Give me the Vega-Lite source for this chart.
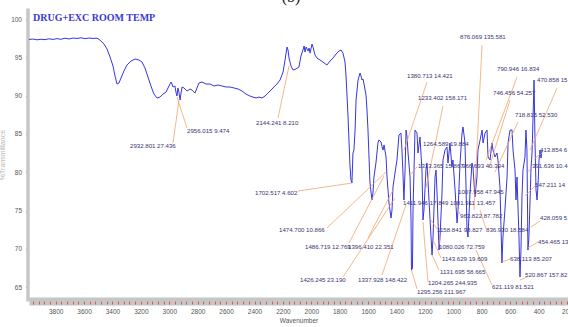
{
  "$schema": "https://vega.github.io/schema/vega-lite/v6.json",
  "width": 539,
  "height": 293,
  "autosize": {"type": "none"},
  "padding": {"left": 29, "top": 8, "right": 0, "bottom": 26},
  "background": "white",
  "config": {"view": {"stroke": null}},
  "resolve": {"axis": {"x": "independent"}},
  "datasets": {
    "spectrum": [
      {"wn":3988,"t":97.33},{"wn":3959,"t":97.39},{"wn":3931,"t":97.29},{"wn":3903,"t":97.36},{"wn":3875,"t":97.31},{"wn":3847,"t":97.42},{"wn":3819,"t":97.34},{"wn":3790,"t":97.44},{"wn":3762,"t":97.36},{"wn":3734,"t":97.5},{"wn":3706,"t":97.4},{"wn":3678,"t":97.52},{"wn":3650,"t":97.46},{"wn":3621,"t":97.55},{"wn":3593,"t":97.44},{"wn":3565,"t":97.52},{"wn":3537,"t":97.47},{"wn":3509,"t":97.5},
      {"wn":3488,"t":97.26},{"wn":3460,"t":96.74},{"wn":3438,"t":96.09},{"wn":3417,"t":95.04},{"wn":3396,"t":93.87},{"wn":3382,"t":92.56},{"wn":3368,"t":91.52},{"wn":3354,"t":91.65},{"wn":3340,"t":92.3},{"wn":3319,"t":93.21},{"wn":3298,"t":94.0},{"wn":3269,"t":94.52},{"wn":3241,"t":94.78},{"wn":3213,"t":94.65},{"wn":3192,"t":94.39},{"wn":3171,"t":93.61},{"wn":3150,"t":92.43},{"wn":3129,"t":91.26},{"wn":3108,"t":90.21},{"wn":3086,"t":89.69},{"wn":3065,"t":89.82},{"wn":3044,"t":90.21},{"wn":3023,"t":90.47},{"wn":3009,"t":91.0},{"wn":2988,"t":91.78},{"wn":2981,"t":91.52},{"wn":2974,"t":91.13},{"wn":2960,"t":91.26},{"wn":2953,"t":90.47},{"wn":2946,"t":89.95},{"wn":2939,"t":91.0},{"wn":2932,"t":90.47},{"wn":2924,"t":89.43},{"wn":2917,"t":90.34},{"wn":2910,"t":91.13},{"wn":2896,"t":91.0},{"wn":2875,"t":90.6},{"wn":2854,"t":90.87},{"wn":2840,"t":90.73},{"wn":2819,"t":90.34},{"wn":2805,"t":91.0},{"wn":2791,"t":91.65},{"wn":2770,"t":91.78},{"wn":2741,"t":91.52},{"wn":2713,"t":91.52},{"wn":2685,"t":91.26},{"wn":2657,"t":91.39},{"wn":2629,"t":91.26},{"wn":2601,"t":91.13},{"wn":2572,"t":91.13},{"wn":2544,"t":91.0},{"wn":2516,"t":90.87},{"wn":2488,"t":90.6},{"wn":2460,"t":90.21},{"wn":2432,"t":89.95},{"wn":2411,"t":89.82},{"wn":2389,"t":89.69},{"wn":2368,"t":89.82},{"wn":2347,"t":89.69},{"wn":2326,"t":89.95},{"wn":2305,"t":90.34},{"wn":2284,"t":90.73},{"wn":2263,"t":91.13},{"wn":2242,"t":91.52},{"wn":2220,"t":92.04},{"wn":2199,"t":93.08},{"wn":2185,"t":94.65},{"wn":2171,"t":96.35},{"wn":2164,"t":95.96},{"wn":2157,"t":94.91},{"wn":2143,"t":93.87},{"wn":2129,"t":93.35},{"wn":2108,"t":93.48},{"wn":2087,"t":93.74},{"wn":2073,"t":95.17},{"wn":2059,"t":95.96},{"wn":2051,"t":96.48},{"wn":2044,"t":95.69},{"wn":2037,"t":96.35},{"wn":2023,"t":95.82},{"wn":2016,"t":96.22},{"wn":2009,"t":95.56},{"wn":1995,"t":96.74},{"wn":1988,"t":96.35},{"wn":1974,"t":95.3},{"wn":1960,"t":94.91},{"wn":1939,"t":94.65},{"wn":1918,"t":94.39},{"wn":1890,"t":94.0},{"wn":1868,"t":94.52},{"wn":1847,"t":94.91},{"wn":1826,"t":95.43},{"wn":1805,"t":95.82},{"wn":1791,"t":95.96},{"wn":1777,"t":95.56},{"wn":1763,"t":94.39},{"wn":1756,"t":92.69},{"wn":1749,"t":90.08},{"wn":1742,"t":87.47},{"wn":1735,"t":84.21},{"wn":1728,"t":80.95},{"wn":1721,"t":78.99},{"wn":1714,"t":78.6},{"wn":1707,"t":82.51},{"wn":1700,"t":82.9},{"wn":1692,"t":85.51},{"wn":1685,"t":89.43},{"wn":1671,"t":92.04},{"wn":1657,"t":92.95},{"wn":1650,"t":92.56},{"wn":1643,"t":92.04},{"wn":1636,"t":92.17},{"wn":1629,"t":91.52},{"wn":1615,"t":90.08},{"wn":1608,"t":88.12},{"wn":1601,"t":85.51},{"wn":1587,"t":78.6},{"wn":1573,"t":76.38},{"wn":1566,"t":77.29},{"wn":1559,"t":79.38},{"wn":1545,"t":81.21},{"wn":1531,"t":83.82},{"wn":1524,"t":84.21},{"wn":1509,"t":83.95},{"wn":1502,"t":83.3},{"wn":1495,"t":82.9},{"wn":1488,"t":83.56},{"wn":1474,"t":81.99},{"wn":1467,"t":79.38},{"wn":1460,"t":77.68},{"wn":1453,"t":75.99},{"wn":1439,"t":74.03},{"wn":1432,"t":75.07},{"wn":1425,"t":78.08},{"wn":1411,"t":79.9},{"wn":1397,"t":81.6},{"wn":1383,"t":84.86},{"wn":1369,"t":85.12},{"wn":1362,"t":82.9},{"wn":1355,"t":79.9},{"wn":1348,"t":76.38},{"wn":1340,"t":80.29},{"wn":1333,"t":85.51},{"wn":1326,"t":84.6},{"wn":1319,"t":82.51},{"wn":1305,"t":79.38},{"wn":1298,"t":73.77},{"wn":1295,"t":67.24},{"wn":1288,"t":67.51},{"wn":1284,"t":75.07},{"wn":1270,"t":85.51},{"wn":1256,"t":85.12},{"wn":1249,"t":82.51},{"wn":1235,"t":84.6},{"wn":1221,"t":80.29},{"wn":1214,"t":73.77},{"wn":1207,"t":75.07},{"wn":1193,"t":80.29},{"wn":1186,"t":81.21},{"wn":1179,"t":78.99},{"wn":1164,"t":73.77},{"wn":1150,"t":69.2},{"wn":1143,"t":71.55},{"wn":1129,"t":79.38},{"wn":1122,"t":80.29},{"wn":1115,"t":77.29},{"wn":1101,"t":69.85},{"wn":1094,"t":71.55},{"wn":1080,"t":77.29},{"wn":1073,"t":81.6},{"wn":1059,"t":82.9},{"wn":1045,"t":83.3},{"wn":1038,"t":81.21},{"wn":1024,"t":83.82},{"wn":1010,"t":80.69},{"wn":1003,"t":81.6},{"wn":988,"t":77.68},{"wn":974,"t":73.38},{"wn":967,"t":75.07},{"wn":953,"t":81.21},{"wn":939,"t":85.12},{"wn":932,"t":85.91},{"wn":918,"t":83.82},{"wn":904,"t":72.46},{"wn":897,"t":71.55},{"wn":883,"t":77.29},{"wn":869,"t":81.21},{"wn":862,"t":80.69},{"wn":848,"t":76.77},{"wn":834,"t":79.38},{"wn":827,"t":82.9},{"wn":812,"t":84.21},{"wn":798,"t":85.51},{"wn":791,"t":83.82},{"wn":777,"t":85.12},{"wn":763,"t":85.51},{"wn":756,"t":81.99},{"wn":742,"t":81.6},{"wn":728,"t":83.82},{"wn":721,"t":82.9},{"wn":707,"t":81.99},{"wn":693,"t":82.51},{"wn":686,"t":81.6},{"wn":672,"t":78.08},{"wn":658,"t":68.16},{"wn":651,"t":71.55},{"wn":637,"t":75.07},{"wn":622,"t":79.38},{"wn":615,"t":83.82},{"wn":601,"t":85.51},{"wn":587,"t":85.51},{"wn":580,"t":82.9},{"wn":566,"t":80.29},{"wn":559,"t":76.38},{"wn":552,"t":79.38},{"wn":538,"t":71.55},{"wn":531,"t":66.33},{"wn":524,"t":69.85},{"wn":517,"t":76.77},{"wn":510,"t":80.29},{"wn":496,"t":81.99},{"wn":489,"t":85.51},{"wn":482,"t":82.9},{"wn":475,"t":69.85},{"wn":468,"t":71.55},{"wn":453,"t":80.69},{"wn":446,"t":82.51},{"wn":439,"t":87.21},{"wn":432,"t":92.04},{"wn":425,"t":83.82},{"wn":418,"t":77.68},{"wn":411,"t":76.38},{"wn":404,"t":78.34},{"wn":397,"t":81.6},{"wn":390,"t":82.9},{"wn":383,"t":81.86},{"wn":376,"t":82.9}
    ],
    "leaders": [
      {"wn":2973.8,"t":83.82,"wn2":2931.5,"t2":89.43},
      {"wn":2875.2,"t":85.78,"wn2":2945.6,"t2":89.82},
      {"wn":2234.6,"t":87.08,"wn2":2157.1,"t2":93.87},
      {"wn":2093.8,"t":77.55,"wn2":1713.6,"t2":78.6},
      {"wn":1889.6,"t":72.73,"wn2":1474.3,"t2":80.03},
      {"wn":1734.7,"t":70.77,"wn2":1488.3,"t2":79.51},
      {"wn":1601,"t":71.42,"wn2":1425,"t2":77.68},
      {"wn":1777,"t":66.33,"wn2":1410.9,"t2":76.64},
      {"wn":1502.4,"t":66.59,"wn2":1333.5,"t2":75.73},
      {"wn":1256,"t":64.77,"wn2":1295,"t2":67.24},
      {"wn":1178.6,"t":65.68,"wn2":1214,"t2":73.51},
      {"wn":1101,"t":67.24,"wn2":1150,"t2":69.2},
      {"wn":1087,"t":68.81,"wn2":1143,"t2":71.16},
      {"wn":1101,"t":70.51,"wn2":1094,"t2":71.68},
      {"wn":1115,"t":72.6,"wn2":1157,"t2":73.77},
      {"wn":770,"t":72.6,"wn2":812.5,"t2":75.07},
      {"wn":953,"t":74.55,"wn2":981.5,"t2":75.73},
      {"wn":1256,"t":80.69,"wn2":1305,"t2":79.64},
      {"wn":1185.6,"t":91.78,"wn2":1347.5,"t2":82.9},
      {"wn":1073,"t":88.65,"wn2":1192.7,"t2":77.95},
      {"wn":798.4,"t":96.61,"wn2":854.7,"t2":75.07},
      {"wn":552,"t":92.43,"wn2":770.3,"t2":81.6},
      {"wn":601.3,"t":89.43,"wn2":749.1,"t2":80.56},
      {"wn":545,"t":86.56,"wn2":707,"t2":80.03},
      {"wn":270.4,"t":90.98,"wn2":460.5,"t2":82.9},
      {"wn":376,"t":82.51,"wn2":425,"t2":81.86},
      {"wn":446.4,"t":80.69,"wn2":475,"t2":80.03},
      {"wn":425,"t":78.21,"wn2":496,"t2":76.9},
      {"wn":390,"t":73.64,"wn2":453.5,"t2":72.86},
      {"wn":404,"t":70.9,"wn2":475,"t2":70.12},
      {"wn":481.6,"t":66.33,"wn2":531,"t2":65.94},
      {"wn":601.3,"t":68.68,"wn2":658,"t2":68.29},
      {"wn":728,"t":65.29,"wn2":841,"t2":69.85}
    ],
    "labels": [
      {"wn":3276.5,"t":83.43,"label":"2932.801  27.436"},
      {"wn":2875,"t":85.38,"label":"2956.015  9.474"},
      {"wn":2389.5,"t":86.43,"label":"2144.241  8.210"},
      {"wn":2396.5,"t":77.29,"label":"1702.517  4.602"},
      {"wn":2227.5,"t":72.46,"label":"1474.700  10.866"},
      {"wn":2044.5,"t":70.25,"label":"1486.719  12.769"},
      {"wn":1741.8,"t":70.25,"label":"1396.410  22.351"},
      {"wn":2079.7,"t":65.94,"label":"1426.245  23.190"},
      {"wn":1671.4,"t":65.94,"label":"1337.928  148.422"},
      {"wn":1256,"t":64.37,"label":"1295.256  211.967"},
      {"wn":1178.6,"t":65.55,"label":"1204.265  244.935"},
      {"wn":1094.1,"t":66.98,"label":"1131.695  58.665"},
      {"wn":1080,"t":68.68,"label":"1143.629  19.609"},
      {"wn":1101.1,"t":70.25,"label":"1080.026  72.759"},
      {"wn":1115.2,"t":72.46,"label":"1158.841  98.827"},
      {"wn":770.3,"t":72.46,"label":"836.930  18.584"},
      {"wn":1354.6,"t":75.99,"label":"1411.946  17.849"},
      {"wn":1023.7,"t":75.99,"label":"1081.911  13.457"},
      {"wn":953.3,"t":74.29,"label":"963.822  87.782"},
      {"wn":967.4,"t":77.42,"label":"1007.958  47.945"},
      {"wn":939.2,"t":80.82,"label":"966.693  40.334"},
      {"wn":1249,"t":80.82,"label":"1313.365  15.867"},
      {"wn":446.4,"t":80.82,"label":"391.636 10.4"},
      {"wn":425.3,"t":78.34,"label":"547.211  14"},
      {"wn":390.1,"t":74.03,"label":"428.059  5"},
      {"wn":404.2,"t":70.9,"label":"454.465  13"},
      {"wn":601.3,"t":68.68,"label":"638.113  85.207"},
      {"wn":495.7,"t":66.59,"label":"520.867 157.82"},
      {"wn":728,"t":65.03,"label":"621.119  81.521"},
      {"wn":953.3,"t":97.65,"label":"876.069  135.581"},
      {"wn":1326.4,"t":92.56,"label":"1380.713  14.421"},
      {"wn":692.8,"t":93.48,"label":"790.946  16.834"},
      {"wn":411.2,"t":92.04,"label":"470.858 15"},
      {"wn":721,"t":90.34,"label":"746.456  54.257"},
      {"wn":1249,"t":89.69,"label":"1233.402  158.171"},
      {"wn":566.1,"t":87.47,"label":"718.815  52.530"},
      {"wn":1213.8,"t":83.69,"label":"1264.589  19.884"},
      {"wn":390.1,"t":82.9,"label":"413.854 6"}
    ]
  },
  "layer": [
    {
      "data": {"name": "spectrum"},
      "mark": {"type": "line", "color": "#3636e0", "strokeWidth": 1, "clip": true},
      "encoding": {
        "x": {
          "field": "wn", "type": "quantitative",
          "scale": {"domain": [193, 3987.5], "reverse": true, "zero": false, "nice": false},
          "axis": {
            "orient": "bottom",
            "title": "Wavenumber",
            "values": [3800,3600,3400,3200,3000,2800,2600,2400,2200,2000,1800,1600,1400,1200,1000,800,600,400,200],
            "format": "d",
            "labelOverlap": false,
            "labelFlush": false,
            "grid": false,
            "zindex": 0,
            "domainColor": "#c6c6c6",
            "domainWidth": 8,
            "tickColor": "#d65a5a",
            "tickSize": 3,
            "tickWidth": 1,
            "labelFont": "Liberation Sans",
            "labelFontSize": 6.5,
            "labelColor": "#555555",
            "labelPadding": 4,
            "titleFont": "Liberation Sans",
            "titleFontSize": 6.5,
            "titleFontWeight": "normal",
            "titleColor": "#555555",
            "titlePadding": 3
          }
        },
        "y": {
          "field": "t", "type": "quantitative",
          "scale": {"domain": [63.2, 101.44], "zero": false, "nice": false},
          "axis": {
            "title": "%Transmittance",
            "values": [65, 70, 75, 80, 85, 90, 95, 100],
            "grid": false,
            "offset": 1.5,
            "domainColor": "#c6c6c6",
            "domainWidth": 3.5,
            "tickColor": "#999999",
            "tickSize": 2,
            "labelFont": "Liberation Sans",
            "labelFontSize": 6.5,
            "labelColor": "#555555",
            "labelPadding": 4,
            "titleFont": "Liberation Sans",
            "titleFontSize": 7,
            "titleFontWeight": "normal",
            "titleColor": "#b8b8b8",
            "titlePadding": 5
          }
        }
      }
    },
    {
      "data": {"name": "leaders"},
      "mark": {"type": "rule", "color": "#f2a46c", "strokeWidth": 0.8},
      "encoding": {
        "x": {
          "field": "wn", "type": "quantitative",
          "axis": {
            "orient": "bottom",
            "title": null,
            "values": [3960,3920,3880,3840,3800,3760,3720,3680,3640,3600,3560,3520,3480,3440,3400,3360,3320,3280,3240,3200,3160,3120,3080,3040,3000,2960,2920,2880,2840,2800,2760,2720,2680,2640,2600,2560,2520,2480,2440,2400,2360,2320,2280,2240,2200,2160,2120,2080,2040,2000,1960,1920,1880,1840,1800,1760,1720,1680,1640,1600,1560,1520,1480,1440,1400,1360,1320,1280,1240,1200,1160,1120,1080,1040,1000,960,920,880,840,800,760,720,680,640,600,560,520,480,440,400,360,320,280,240,200],
            "labels": false,
            "domain": false,
            "grid": false,
            "zindex": 1,
            "tickColor": "#d65a5a",
            "tickSize": 3,
            "tickWidth": 1
          }
        },
        "y": {"field": "t", "type": "quantitative"},
        "x2": {"field": "wn2"},
        "y2": {"field": "t2"}
      }
    },
    {
      "data": {"name": "labels"},
      "mark": {"type": "text", "align": "left", "baseline": "middle", "font": "Liberation Sans", "fontSize": 6.1, "color": "#3b3472"},
      "encoding": {
        "x": {"field": "wn", "type": "quantitative", "axis": null},
        "y": {"field": "t", "type": "quantitative"},
        "text": {"field": "label"}
      }
    },
    {
      "data": {"values": [{"wn": 3959, "t": 100.13, "label": "DRUG+EXC ROOM TEMP"}]},
      "mark": {"type": "text", "align": "left", "baseline": "middle", "font": "Liberation Serif", "fontWeight": "bold", "fontSize": 10, "color": "#3a3ad2"},
      "encoding": {
        "x": {"field": "wn", "type": "quantitative", "axis": null},
        "y": {"field": "t", "type": "quantitative"},
        "text": {"field": "label"}
      }
    },
    {
      "data": {"values": [{"wn": 2143, "t": 102.22, "label": "(b)"}]},
      "mark": {"type": "text", "align": "center", "baseline": "alphabetic", "font": "Liberation Serif", "fontSize": 16, "color": "#111111"},
      "encoding": {
        "x": {"field": "wn", "type": "quantitative", "axis": null},
        "y": {"field": "t", "type": "quantitative"},
        "text": {"field": "label"}
      }
    }
  ]
}
